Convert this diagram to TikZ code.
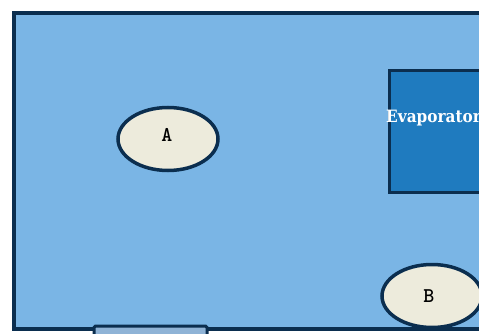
\documentclass[tikz,border=0pt]{standalone}
\usepackage{fontspec}
\newfontfamily\evapfont{DejaVu Serif Condensed}
\usetikzlibrary{shapes.geometric}
\definecolor{wall}{HTML}{0B2E4F}
\definecolor{roomfill}{HTML}{7AB5E5}
\definecolor{evapfill}{HTML}{1F7BBF}
\definecolor{ellfill}{HTML}{EDEBDC}
\definecolor{doorfill}{HTML}{8FB3D6}
\tikzset{
  zone/.style={ellipse, draw=wall, line width=3.5pt, fill=ellfill, inner sep=0pt,
    minimum width=100pt, minimum height=63pt},
  zonelabel/.style={font=\ttfamily\bfseries\fontsize{21}{23}\selectfont, inner sep=0pt},
  evapbox/.style={rectangle, draw=wall, line width=3pt, fill=evapfill, inner sep=0pt},
}
\begin{document}
\begin{tikzpicture}[x=1pt,y=-1pt]
\useasboundingbox (0,0) rectangle (479,334);
\clip (0,0) rectangle (479,334);
\fill[white] (0,0) rectangle (479,334);
\draw[wall, line width=3.5pt, fill=roomfill] (14,13) rectangle (520,329);
\node[evapbox, minimum width=130pt, minimum height=122pt, anchor=north west] (evap) at (388,69) {};
\node[anchor=west, text=white, font=\evapfont\bfseries\fontsize{17}{19}\selectfont, inner sep=0pt] (evaptext) at (386,118) {Evaporator};
\node[zone] (A) at (168,139) {};
\node[zonelabel] (Alab) at (167,135) {A};
\node[zone] (B) at (432,296) {};
\node[zonelabel] (Blab) at (429,296) {B};
\draw[wall, line width=3pt, fill=doorfill, rounded corners=1.5pt] (94,326) rectangle (207,338);
\end{tikzpicture}
\end{document}
